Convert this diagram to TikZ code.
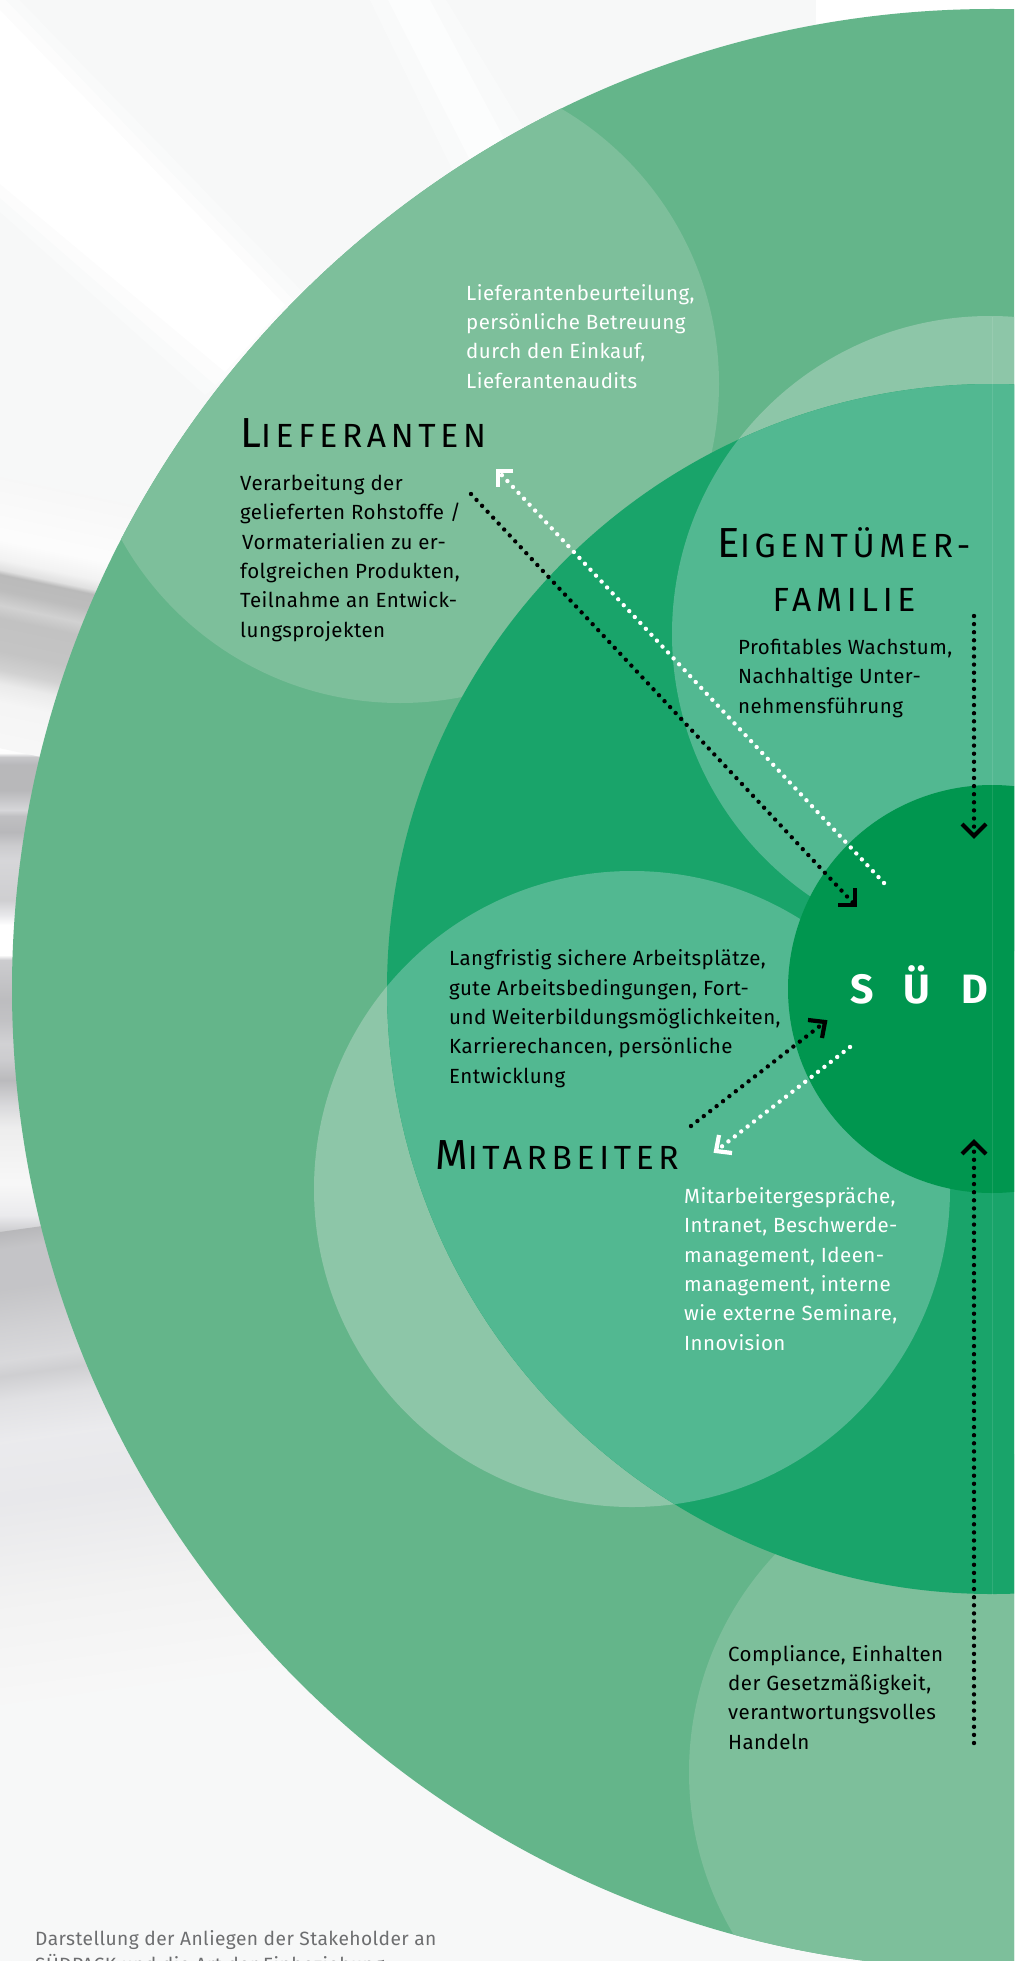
\documentclass[tikz,border=0pt]{standalone}
\usepackage{fontspec}
\setmainfont[LetterSpace=2.2]{Fira Sans}
\newfontfamily\titlefont[LetterSpace=14]{Fira Sans}
\newfontfamily\coreFont{Fira Sans}
\usetikzlibrary{calc}
\definecolor{bgbase}{HTML}{F7F8F8}
\definecolor{cBig}{HTML}{64B58A}
\definecolor{cSoft}{HTML}{7DBF9B}
\definecolor{cInner}{HTML}{19A46A}
\definecolor{cBand}{HTML}{8DC6A8}
\definecolor{cMid}{HTML}{52B891}
\definecolor{cCore}{HTML}{00964F}
\definecolor{cCaption}{HTML}{6D6E70}
\pgfdeclareverticalshading{photoA}{100bp}{
rgb(0bp)=(.97,.97,.97);rgb(25bp)=(.97,.97,.97);rgb(33.5bp)=(.96,.96,.96);rgb(36.9bp)=(.92,.92,.92);rgb(39.5bp)=(.82,.82,.82);rgb(42.9bp)=(.77,.77,.77);rgb(49bp)=(.76,.76,.76);rgb(51.4bp)=(.82,.82,.82);rgb(54.2bp)=(.74,.74,.74);rgb(57.1bp)=(.73,.73,.73);rgb(58bp)=(.88,.88,.88);rgb(59.9bp)=(.95,.95,.95);rgb(63.7bp)=(.99,.99,.99);rgb(75bp)=(.97,.97,.97);rgb(100bp)=(.97,.97,.97)}
\pgfdeclareverticalshading{photoB}{100bp}{
rgb(0bp)=(.72,.72,.73);rgb(25bp)=(.72,.72,.73);rgb(25.8bp)=(.80,.80,.81);rgb(27.5bp)=(.92,.92,.93);rgb(30.7bp)=(.97,.97,.97);rgb(36.3bp)=(.93,.93,.93);rgb(38.5bp)=(.85,.85,.86);rgb(41bp)=(.73,.73,.74);rgb(43bp)=(.80,.80,.81);rgb(44.7bp)=(.82,.82,.83);rgb(47bp)=(.76,.76,.77);rgb(49bp)=(.74,.74,.75);rgb(53bp)=(.80,.80,.81);rgb(53.5bp)=(1,1,1);rgb(56.5bp)=(1,1,1);rgb(57.5bp)=(.91,.91,.92);rgb(59bp)=(.81,.81,.82);rgb(63bp)=(.84,.84,.85);rgb(64.4bp)=(.80,.80,.81);rgb(65.8bp)=(.72,.72,.73);rgb(67.4bp)=(.75,.75,.76);rgb(68bp)=(.84,.84,.85);rgb(69bp)=(.78,.78,.79);rgb(70bp)=(.72,.72,.73);rgb(72.5bp)=(.72,.72,.73);rgb(73.3bp)=(.78,.78,.79);rgb(73.7bp)=(.99,.99,.99);rgb(74.2bp)=(1,1,1);rgb(75bp)=(.97,.97,.97);rgb(100bp)=(.97,.97,.97)}
\pgfdeclareverticalshading{photoC}{100bp}{
rgb(0bp)=(.97,.97,.97);rgb(25bp)=(.97,.97,.97);rgb(35.7bp)=(.95,.95,.95);rgb(46.4bp)=(.91,.91,.92);rgb(52.8bp)=(.92,.92,.93);rgb(57.1bp)=(.88,.88,.89);rgb(59.7bp)=(.81,.81,.82);rgb(61.3bp)=(.85,.85,.86);rgb(64.5bp)=(.82,.82,.83);rgb(68.8bp)=(.77,.77,.78);rgb(73.1bp)=(.77,.77,.78);rgb(75bp)=(.72,.72,.73);rgb(100bp)=(.72,.72,.73)}
\tikzset{
  bodytext/.style={anchor=base west,inner sep=0pt,align=left,font=\fontsize{20.5}{29.3}\selectfont},
  blacktext/.style={bodytext,text=black},
  whitetext/.style={bodytext,text=white},
  titletext/.style={anchor=base west,inner sep=0pt,text=black},
  dotline/.style={line width=4.4pt,line cap=round,dash pattern=on 0pt off 8.1pt},
  chevron/.style={line width=4.2pt,miter limit=10,line join=miter,line cap=butt},
}
\newcommand{\capbig}[1]{{\fontsize{42}{50}\titlefont #1}}
\newcommand{\capsmall}[1]{{\fontsize{33.5}{50}\titlefont #1}}
\begin{document}
\begin{tikzpicture}[x=1pt,y=-1pt]
\useasboundingbox (0,0) rectangle (1014,1961);
\clip (0,0) rectangle (1014,1961);
% background
\fill[bgbase] (0,0) rectangle (1014,1961);
\fill[white] (816,0) rectangle (1014,50);
\fill[white,opacity=.3] (0,-20) -- (320,310) -- (205,395) -- (0,212) -- cycle;
\fill[white,opacity=.5] (0,-6) -- (303,310) -- (215,385) -- (0,198) -- cycle;
\fill[white] (0,10) -- (285,305) -- (225,372) -- (0,184) -- cycle;
\fill[white,opacity=.35] (370,0) -- (446,0) -- (525,130) -- (455,175) -- cycle;
\fill[white,opacity=.6] (388,0) -- (430,0) -- (505,140) -- (470,160) -- cycle;
\path[shading=photoB] (0,740) rectangle (300,1240);
\begin{scope}[transform canvas={rotate around={-12:(0,600)}}]
\path[shading=photoA] (-200,480) rectangle (400,745);
\end{scope}
\begin{scope}[transform canvas={rotate around={8:(0,1232)}}]
\path[shading=photoC] (-200,1232) rectangle (500,1700);
\end{scope}
% circles
\fill[cBig] (992,989) circle[radius=980];
\begin{scope}
\clip (992,989) circle[radius=980];
\fill[cSoft] (400,384) circle[radius=319];
\fill[cSoft] (1007,1772) circle[radius=318];
\end{scope}
\fill[cBand] (990,634) circle[radius=318];
\fill[cBand] (632,1189) circle[radius=318];
\fill[cInner] (992,989) circle[radius=605];
\begin{scope}
\clip (992,989) circle[radius=605];
\fill[cMid] (990,634) circle[radius=318];
\fill[cMid] (632,1189) circle[radius=318];
\end{scope}
\fill[cCore] (992,989) circle[radius=204];
\draw[white,opacity=.1,line width=1pt] (992,317) -- (992,1595);
% texts
\node[whitetext] (liefwhite) at (466,388) {Lieferantenbeurteilung,\\persönliche Betreuung\\durch den Einkauf,\\Lieferantenaudits};
\node[titletext] (lieftitle) at (240,447) {\capbig{L}\capsmall{IEFERANTEN}};
\node[blacktext] (liefblack) at (240,637) {Verarbeitung der\\gelieferten Rohstoffe /\\\hspace{2pt}Vormaterialien zu er-\\folgreichen Produkten,\\Teilnahme an Entwick-\\lungsprojekten};
\node[anchor=base,inner sep=0pt,align=center,text=black,font=\fontsize{33.5}{54}\selectfont] (eigentitle) at (844,611) {\capbig{E}\capsmall{IGENTÜMER-}\\\capsmall{FAMILIE}};
\node[blacktext] (eigenblack) at (738,713) {Profitables Wachstum,\\Nachhaltige Unter-\\nehmensführung};
\node[anchor=base west,inner sep=0pt,text=white,font=\fontsize{41}{50}\coreFont\bfseries] (sued) at (850,1003) {S\hspace{30pt}Ü\hspace{31pt}D};
\node[blacktext] (mitblack) at (449,1083) {Langfristig sichere Arbeitsplätze,\\gute Arbeitsbedingungen, Fort-\\und Weiterbildungsmöglichkeiten,\\Karrierechancen, persönliche\\Entwicklung};
\node[titletext] (mittitle) at (435,1169) {\capbig{M}\capsmall{ITARBEITER}};
\node[whitetext] (mitwhite) at (684,1350) {Mitarbeitergespräche,\\Intranet, Beschwerde-\\management, Ideen-\\management, interne\\wie externe Seminare,\\Innovision};
\node[blacktext] (compl) at (728,1749) {Compliance, Einhalten\\der Gesetzmäßigkeit,\\verantwortungsvolles\\Handeln};
\node[bodytext,text=cCaption,font=\fontsize{19.2}{26}\selectfont] (caption) at (35,1971) {Darstellung der Anliegen der Stakeholder an\\SÜDPACK und die Art der Einbeziehung};
% connectors
\coordinate (a1) at (471,494); \coordinate (a1h) at (855,905);
\coordinate (a2) at (884,883); \coordinate (a2h) at (498,471);
\coordinate (a3) at (691,1126); \coordinate (a3h) at (825,1022);
\coordinate (a4) at (850,1047); \coordinate (a4h) at (716,1151);
\coordinate (a5) at (974,616); \coordinate (a5h) at (974,836);
\coordinate (a6) at (974,1743); \coordinate (a6h) at (974,1142);
\draw[dotline,black] (a1) -- (a1h);
\draw[dotline,white] (a2) -- (a2h);
\draw[dotline,black] (a3) -- (a3h);
\draw[dotline,white] (a4) -- (a4h);
\draw[dotline,black] (a5) -- (a5h);
\draw[dotline,black] (a6) -- (a6h);
\draw[chevron,black] ($(a1h)+(-17,0)$) -- (a1h) -- ($(a1h)+(0,-17)$);
\draw[chevron,white] ($(a2h)+(15,0)$) -- (a2h) -- ($(a2h)+(0,16)$);
\draw[chevron,black] ($(a3h)+(-17,-2)$) -- (a3h) -- ($(a3h)+(-3,16)$);
\draw[chevron,white] ($(a4h)+(3,-16)$) -- (a4h) -- ($(a4h)+(16,2)$);
\draw[chevron,black] ($(a5h)+(-12,-12)$) -- (a5h) -- ($(a5h)+(12,-12)$);
\draw[chevron,black] ($(a6h)+(-12,12)$) -- (a6h) -- ($(a6h)+(12,12)$);
\end{tikzpicture}
\end{document}
